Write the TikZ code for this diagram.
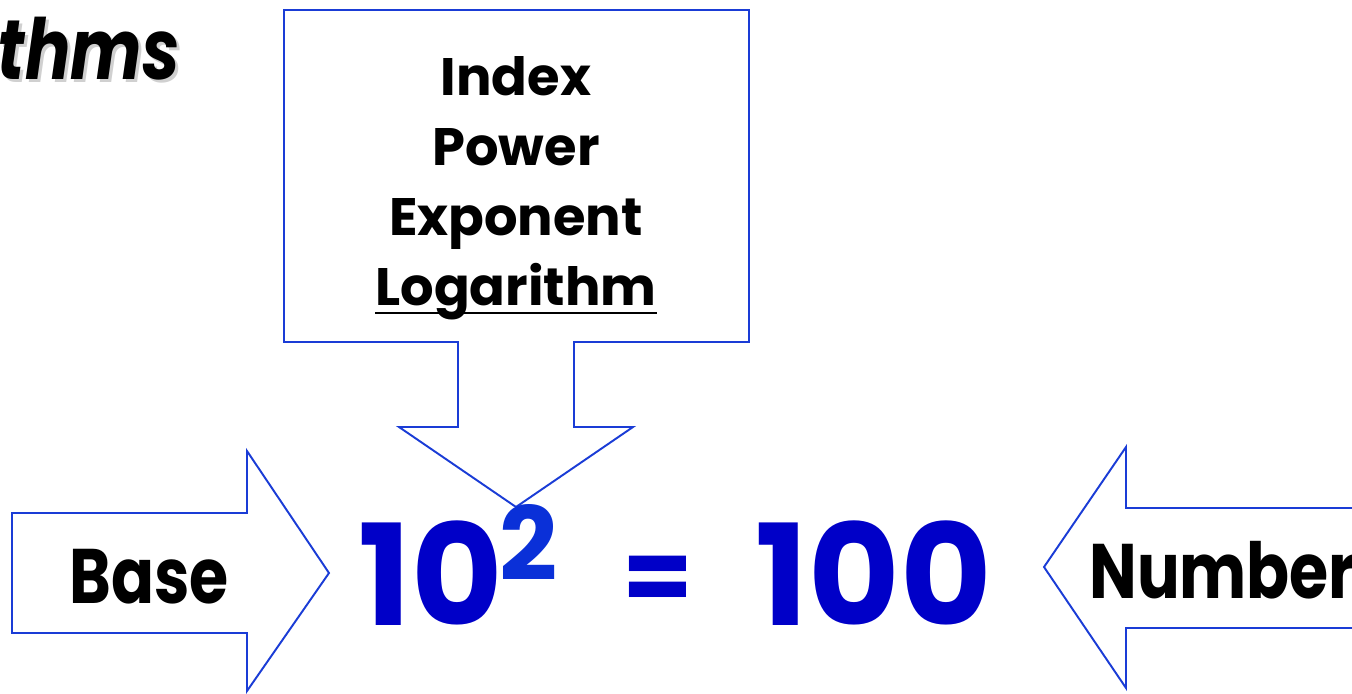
\documentclass[tikz,border=0pt]{standalone}
\usepackage{fontspec}
\setmainfont{Poppins}
\usetikzlibrary{positioning}
\definecolor{lineblue}{HTML}{1A3CD6}
\definecolor{eqblue}{HTML}{0000C8}
\definecolor{supblue}{HTML}{0A30D8}
\definecolor{shade}{HTML}{D0D0D0}

\begin{document}
\begin{tikzpicture}[x=0.02cm, y=-0.02cm,
  blockarrow/.style={draw=lineblue, line width=1.1pt, fill=white, line join=miter},
  word/.style={font=\fontsize{44}{50}\selectfont\bfseries, inner sep=0pt},
  callout/.style={font=\fontsize{30}{36}\selectfont\bfseries, inner sep=0pt, anchor=base},
  eq/.style={font=\fontsize{80}{90}\selectfont\bfseries, text=eqblue, inner sep=0pt},
  titletext/.style={font=\fontsize{48}{52}\selectfont\bfseries\itshape, inner sep=0pt, anchor=base east}]
\useasboundingbox (0,0) rectangle (1352,693);
\clip (0,0) rectangle (1352,693);
% title, cut off at the left edge
\node[titletext, text=shade] (titleshadow) at (183,82) {\scalebox{0.8}[1]{thms}};
\node[titletext] (title) at (180,79) {\scalebox{0.8}[1]{thms}};
% callout box pointing down at the exponent
\draw[blockarrow] (284,10) -- (749,10) -- (749,342) -- (574,342) -- (574,427) -- (633,427)
  -- (516,507) -- (399,427) -- (458,427) -- (458,342) -- (284,342) -- cycle;
\node[callout] (index) at (516,95) {Index};
\node[callout] (power) at (516,165) {Power};
\node[callout] (exponent) at (516,235) {Exponent};
\node[callout] (logarithm) at (516,305) {Logarithm};
\draw[line width=1.4pt] ([yshift=-4.5pt]logarithm.base west) -- ([yshift=-4.5pt]logarithm.base east);
% base arrow
\draw[blockarrow] (12,513) -- (247,513) -- (247,451) -- (329,573) -- (247,691) -- (247,633) -- (12,633) -- cycle;
\node[word, anchor=base] (base) at (149,603) {\scalebox{0.82}[1]{Base}};
% number arrow
\draw[blockarrow] (1400,508) -- (1126,508) -- (1126,447) -- (1044,567) -- (1126,688) -- (1126,628) -- (1400,628) -- cycle;
\node[word, anchor=base west] (number) at (1089,598) {\scalebox{0.82}[1]{Number}};
% the equation
\node[eq, anchor=base west] (ten) at (358,625) {10};
\node[eq, font=\fontsize{58}{60}\selectfont\bfseries, text=supblue, anchor=base west] (two) at (499,580) {2};
\node[eq, font=\fontsize{58}{60}\selectfont\bfseries, anchor=base] (equals) at (658,612) {=};
\node[eq, anchor=base east] (hundred) at (992,625) {100};
\end{tikzpicture}
\end{document}
